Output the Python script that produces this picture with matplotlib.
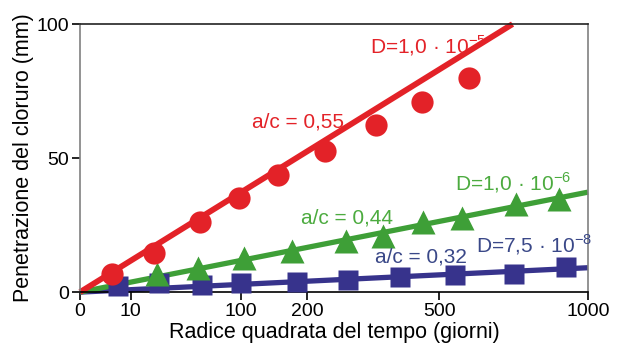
import matplotlib
matplotlib.use("Agg")
import matplotlib.pyplot as plt
import numpy as np

plt.rcParams["font.family"] = ["Liberation Sans", "DejaVu Sans"]
plt.rcParams["mathtext.fontset"] = "custom"
plt.rcParams["mathtext.rm"] = "Liberation Sans"

# tempo in giorni, penetrazione in mm
red_t = [4, 21, 56, 98, 152, 233, 339, 454, 587]
red_p = [6.6, 14.7, 26.2, 35.1, 43.7, 52.8, 62.4, 70.9, 79.9]
green_t = [23, 54, 104, 174, 274, 356, 456, 566, 735, 888]
green_p = [6.6, 9.1, 12.8, 15.4, 19.1, 21.0, 26.0, 27.8, 32.8, 34.7]
blue_t = [5.5, 24, 58, 101, 182, 279, 397, 545, 729, 917]
blue_p = [2.2, 3.5, 2.5, 3.5, 3.7, 4.4, 5.6, 6.3, 6.9, 9.4]

# rette di regressione (estremi)
red_fit_t = [0, 725]
red_fit_p = [0, 100]
green_fit_t = [0, 1000]
green_fit_p = [0, 37.3]
blue_fit_t = [0, 1000]
blue_fit_p = [0, 9.1]

x_ticks = [0, 10, 100, 200, 500, 1000]
y_ticks = [0, 50, 100]

RED = "#E32228"
GREEN = "#3E9F37"
GREEN_TXT = "#4CAB3F"
BLUE = "#37338C"
BLUE_TXT = "#3A4888"

fig = plt.figure(figsize=(6.17, 3.49), dpi=100)
ax = fig.add_axes([0.1297, 0.163, 0.8233, 0.768])

ax.set_xscale("function", functions=(lambda x: np.sqrt(np.clip(x, 0, None)),
                                     lambda x: np.square(x)))

ax.plot(blue_fit_t, blue_fit_p, color=BLUE, lw=3.8, solid_capstyle="butt", clip_on=False, zorder=2)
ax.plot(green_fit_t, green_fit_p, color=GREEN, lw=3.8, solid_capstyle="butt", clip_on=False, zorder=2)
ax.plot(red_fit_t, red_fit_p, color=RED, lw=4.2, solid_capstyle="butt", clip_on=False, zorder=2)

ax.plot(blue_t, blue_p, "s", color=BLUE, ms=15, mec="none", clip_on=False, zorder=3)
ax.plot(green_t, green_p, "^", color=GREEN, ms=17, mec="none", clip_on=False, zorder=3)
ax.plot(red_t, red_p, "o", color=RED, ms=16, mec="none", clip_on=False, zorder=3)

fs = 15
ax.text(326, 89.1, r"D=1,0 · 10$^{\mathrm{-5}}$", color=RED, fontsize=fs, va="baseline")
ax.text(114, 61.4, "a/c = 0,55", color=RED, fontsize=fs, va="baseline")
ax.text(545, 37.8, r"D=1,0 · 10$^{\mathrm{-6}}$", color=GREEN_TXT, fontsize=fs, va="baseline")
ax.text(190, 25.5, "a/c = 0,44", color=GREEN_TXT, fontsize=fs, va="baseline")
ax.text(607, 15.0, r"D=7,5 · 10$^{\mathrm{-8}}$", color=BLUE_TXT, fontsize=fs, va="baseline")
ax.text(337, 11.0, "a/c = 0,32", color=BLUE_TXT, fontsize=fs, va="baseline")

ax.set_xlim(0, 1000)
ax.set_ylim(0, 100)
ax.set_xticks(x_ticks)
ax.set_xticklabels([str(t) for t in x_ticks])
ax.set_yticks(y_ticks)
ax.tick_params(axis="both", direction="out", length=6, width=1.2, labelsize=14, pad=2)
ax.set_xlabel("Radice quadrata del tempo (giorni)", fontsize=15.5, labelpad=1)
ax.set_ylabel("Penetrazione del cloruro (mm)", fontsize=15.5, labelpad=2)

ax.spines["left"].set_color("#808080")
ax.spines["right"].set_color("#808080")
ax.spines["top"].set_color("#222222")
ax.spines["bottom"].set_color("black")
for s in ax.spines.values():
    s.set_linewidth(1.2)

fig.savefig("out.png", dpi=100)
